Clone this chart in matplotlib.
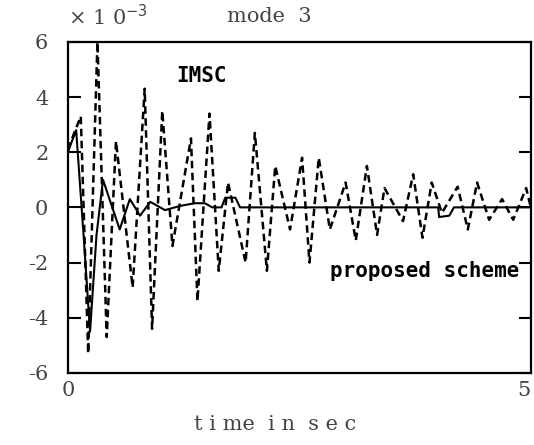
import matplotlib
matplotlib.use("Agg")
import matplotlib.pyplot as plt

plt.rcParams['axes.unicode_minus'] = False

# IMSC response (dashed), local extremes
imsc_t = [0.00, 0.14, 0.22, 0.32, 0.42, 0.52, 0.70, 0.83, 0.91, 1.02, 1.13, 1.33, 1.40,
          1.53, 1.63, 1.73, 1.92, 2.02, 2.15, 2.24, 2.40, 2.53, 2.61, 2.71, 2.83, 3.00,
          3.11, 3.23, 3.34, 3.42, 3.62, 3.73, 3.83, 3.93, 4.04, 4.21, 4.32, 4.42, 4.55,
          4.69, 4.81, 4.95, 5.00]
imsc_v = [2.1, 3.3, -5.3, 6.0, -4.7, 2.4, -2.9, 4.3, -4.4, 3.5, -1.4, 2.5, -3.4,
          3.4, -2.3, 0.9, -2.0, 2.7, -2.3, 1.5, -0.8, 1.8, -2.0, 1.8, -0.8, 0.9,
          -1.2, 1.5, -1.0, 0.7, -0.5, 1.2, -1.1, 0.9, -0.2, 0.75, -0.8, 0.9, -0.45,
          0.3, -0.45, 0.7, 0.0]

# proposed scheme (solid)
prop_t = [0.00, 0.09, 0.17, 0.24, 0.31, 0.38, 0.48, 0.56, 0.67, 0.78, 0.89, 1.05, 1.21,
          1.37, 1.48, 1.56, 1.66, 1.70, 1.81, 1.86, 4.00, 4.01, 4.12, 4.17, 5.00]
prop_v = [2.0, 2.8, -1.0, -4.5, -1.0, 1.0, 0.0, -0.8, 0.3, -0.3, 0.2, -0.1, 0.05,
          0.15, 0.15, 0.0, 0.0, 0.35, 0.35, 0.0, 0.0, -0.35, -0.3, 0.0, 0.0]

yticks = [-6, -4, -2, 0, 2, 4, 6]

fig = plt.figure(figsize=(5.34, 4.45), dpi=100)
ax = fig.add_axes([0.127, 0.162, 0.867, 0.744])

ax.plot(imsc_t, imsc_v, color='black', lw=1.8, dashes=(3, 1.8))
ax.plot(prop_t, prop_v, color='black', lw=1.5)

ax.set_xlim(0, 5)
ax.set_ylim(-6, 6)
ax.set_yticks(yticks)
ax.set_yticklabels([str(v) for v in yticks], family='DejaVu Serif', fontsize=15, color='#444')
ax.set_xticks([0, 5])
xl = ax.set_xticklabels(['0', '5'], family='DejaVu Serif', fontsize=15, color='#444')
xl[1].set_horizontalalignment('right')
ax.tick_params(axis='y', direction='in', length=9, width=1.5, right=True, pad=14)
ax.tick_params(axis='x', length=0, pad=6)
for s in ax.spines.values():
    s.set_linewidth(1.6)

ax.text(0.235, 0.88, 'IMSC', transform=ax.transAxes, family='DejaVu Sans Mono',
        fontweight='bold', fontsize=15)
ax.text(0.975, 0.29, 'proposed scheme', transform=ax.transAxes, family='DejaVu Sans Mono',
        fontweight='bold', fontsize=15, ha='right')

fig.text(0.127, 0.962, '× 1 0$^{-3}$', family='DejaVu Serif', fontsize=15, color='#444', va='center')
fig.text(0.505, 0.962, 'mode  3', family='DejaVu Serif', fontsize=15, color='#444', va='center', ha='center')
fig.text(0.515, 0.045, 't i me  i n  s e c', family='DejaVu Serif', fontsize=15, color='#444',
         va='center', ha='center')

fig.savefig('out.png', dpi=100)
